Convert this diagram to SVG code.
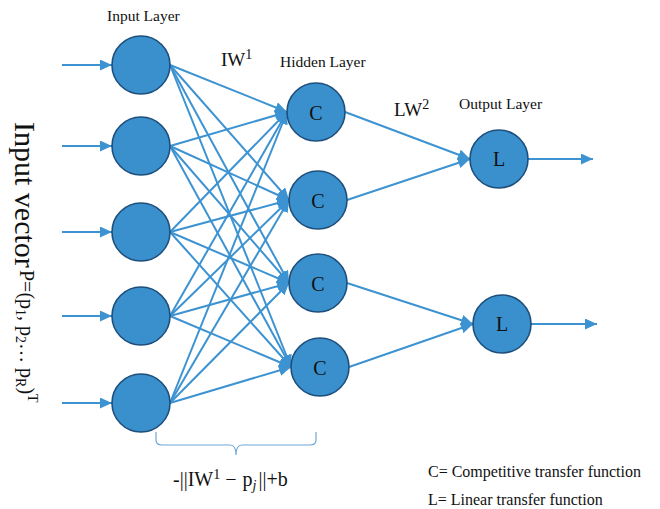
<svg xmlns="http://www.w3.org/2000/svg" width="660" height="509" viewBox="0 0 660 509">
<style>
.node{fill:#3a90cc;stroke:#1d4f7c;stroke-width:1.6}
.ln{stroke:#3d93d1;stroke-width:2;fill:none}
.t{font-family:"Liberation Serif","Times New Roman",serif;fill:#111}
.lbl{font-size:15.5px}
.nl{font-size:20px;text-anchor:middle}
</style>
<defs>
<marker id="ah" viewBox="0 0 12 11" refX="12" refY="5.5" markerWidth="12" markerHeight="11" markerUnits="userSpaceOnUse" orient="auto">
<path d="M0,0 L12,5.5 L0,11 z" fill="#3d93d1"/>
</marker>
</defs>
<rect width="660" height="509" fill="#fff"/>
<g id="connectors">
<g class="ln" marker-end="url(#ah)">
<line x1="62" y1="65" x2="112" y2="65"/>
<line x1="62" y1="146" x2="112" y2="146"/>
<line x1="62" y1="232" x2="112" y2="232"/>
<line x1="62" y1="316" x2="112" y2="316"/>
<line x1="62" y1="403" x2="112" y2="403"/>
<line x1="170" y1="65" x2="287" y2="112"/>
<line x1="170" y1="65" x2="289" y2="200"/>
<line x1="170" y1="65" x2="289" y2="283"/>
<line x1="170" y1="65" x2="291" y2="367"/>
<line x1="170" y1="146" x2="287" y2="112"/>
<line x1="170" y1="146" x2="289" y2="200"/>
<line x1="170" y1="146" x2="289" y2="283"/>
<line x1="170" y1="146" x2="291" y2="367"/>
<line x1="170" y1="232" x2="287" y2="112"/>
<line x1="170" y1="232" x2="289" y2="200"/>
<line x1="170" y1="232" x2="289" y2="283"/>
<line x1="170" y1="232" x2="291" y2="367"/>
<line x1="170" y1="316" x2="287" y2="112"/>
<line x1="170" y1="316" x2="289" y2="200"/>
<line x1="170" y1="316" x2="289" y2="283"/>
<line x1="170" y1="316" x2="291" y2="367"/>
<line x1="170" y1="403" x2="287" y2="112"/>
<line x1="170" y1="403" x2="289" y2="200"/>
<line x1="170" y1="403" x2="289" y2="283"/>
<line x1="170" y1="403" x2="291" y2="367"/>
<line x1="345" y1="112" x2="470" y2="159"/>
<line x1="347" y1="200" x2="470" y2="159"/>
<line x1="347" y1="283" x2="473" y2="324"/>
<line x1="349" y1="367" x2="473" y2="324"/>
<line x1="528" y1="159" x2="593" y2="159"/>
<line x1="531" y1="324" x2="597" y2="324"/>
</g>
</g>
<g id="in1"><circle class="node" cx="141" cy="65" r="29"/></g>
<g id="in2"><circle class="node" cx="141" cy="146" r="29"/></g>
<g id="in3"><circle class="node" cx="141" cy="232" r="29"/></g>
<g id="in4"><circle class="node" cx="141" cy="316" r="29"/></g>
<g id="in5"><circle class="node" cx="141" cy="403" r="29"/></g>
<g id="h1"><circle class="node" cx="316" cy="112" r="29"/><text class="t nl" x="316" y="120">C</text></g>
<g id="h2"><circle class="node" cx="318" cy="200" r="29"/><text class="t nl" x="318" y="208">C</text></g>
<g id="h3"><circle class="node" cx="318" cy="283" r="29"/><text class="t nl" x="318" y="291">C</text></g>
<g id="h4"><circle class="node" cx="320" cy="367" r="29"/><text class="t nl" x="320" y="375">C</text></g>
<g id="o1"><circle class="node" cx="499" cy="159" r="29"/><text class="t nl" x="499" y="166">L</text></g>
<g id="o2"><circle class="node" cx="502" cy="324" r="29"/><text class="t nl" x="502" y="331">L</text></g>
<g id="labels">
<text class="t lbl" x="107" y="21">Input Layer</text>
<text class="t" x="221" y="66" font-size="19">IW<tspan font-size="14" dy="-7">1</tspan></text>
<text class="t lbl" x="280" y="67">Hidden Layer</text>
<text class="t" x="394" y="116" font-size="19">LW<tspan font-size="14" dy="-7">2</tspan></text>
<text class="t lbl" x="459" y="109">Output Layer</text>
<g transform="translate(15,122) rotate(90)">
<text class="t" x="0" y="0" font-size="30">Input vector</text>
<text class="t" x="148" y="-5" font-size="20">P=(p<tspan font-size="14" dy="4">1</tspan><tspan dy="-4">, p</tspan><tspan font-size="14" dy="4">2</tspan><tspan dy="-4">… p</tspan><tspan font-size="14" dy="4">R</tspan><tspan dy="-4">)</tspan><tspan font-size="14" dy="-8">T</tspan></text>
</g>
<path d="M156,432 L156,440 Q156,445 162,445 L230,445 Q236,445 236,455 Q236,445 242,445 L310,445 Q316,445 316,440 L316,432" fill="none" stroke="#6fa8d8" stroke-width="1.2"/>
<text class="t" x="173" y="486" font-size="20">-||IW<tspan font-size="14" dy="-7">1</tspan><tspan dx="5" dy="7">−</tspan><tspan dx="6">p</tspan><tspan font-size="14" dy="4" font-style="italic">j</tspan><tspan dx="2" dy="-4">||+b</tspan></text>
<text class="t" x="428" y="477" font-size="16">C= Competitive transfer function</text>
<text class="t" x="428" y="505" font-size="16">L= Linear transfer function</text>
</g>
</svg>
